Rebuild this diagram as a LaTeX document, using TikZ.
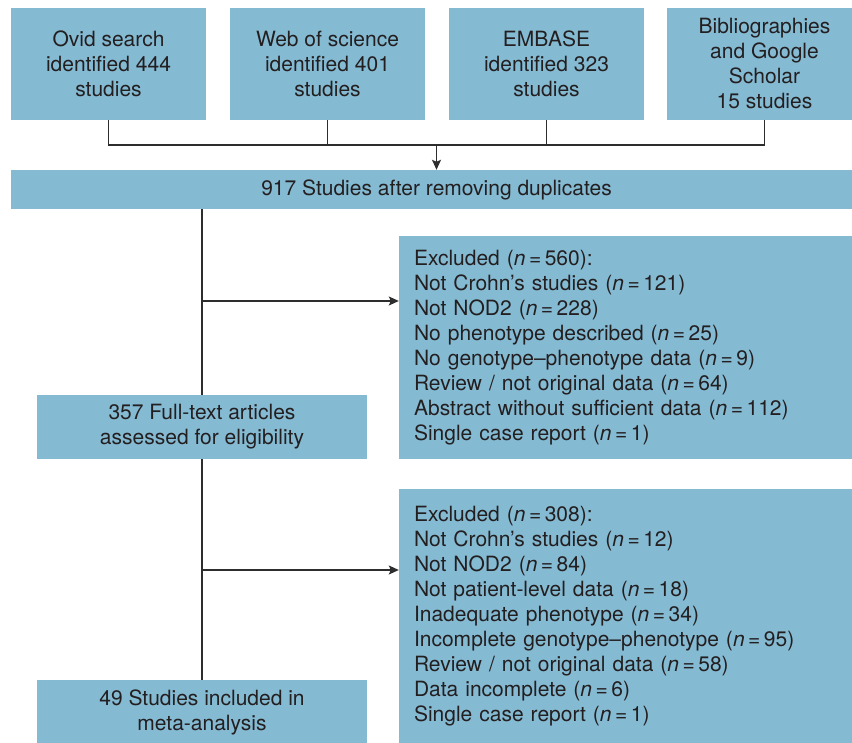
\documentclass[tikz,border=0pt]{standalone}
\usepackage{fontspec}
\setmainfont{TeX Gyre Heros}
\usetikzlibrary{arrows.meta}
\definecolor{boxblue}{RGB}{133,186,211}
\definecolor{txt}{RGB}{35,31,32}
\definecolor{ln}{RGB}{45,45,45}
\newcommand{\nn}[1]{(\textit{n}\,=\,#1)}
\begin{document}
\begin{tikzpicture}[x=1pt,y=-1pt,
  box/.style={fill=boxblue,draw=none,text=txt,font=\fontsize{21}{25}\selectfont,align=center,inner sep=0pt},
  exbox/.style={fill=boxblue,draw=none,text=txt,font=\fontsize{21}{25}\selectfont,align=left,inner xsep=15pt,inner ysep=0pt,text width=433pt},
  conn/.style={draw=ln,line width=1.3pt},
  arr/.style={conn,-{Stealth[length=10pt,width=9pt,inset=2pt]}}]
\useasboundingbox (0,0) rectangle (852,743);
\fill[white] (0,0) rectangle (852,743);
\node[box,minimum width=195pt,minimum height=112pt] (b1) at (108.5,64) {Ovid search\\identified 444\\studies};
\node[box,minimum width=195pt,minimum height=112pt] (b2) at (327.5,64) {Web of science\\identified 401\\studies};
\node[box,minimum width=195pt,minimum height=112pt] (b3) at (546.5,64) {EMBASE\\identified 323\\studies};
\node[box,minimum width=195pt,minimum height=112pt] (b4) at (764.5,64) {Bibliographies\\and Google\\Scholar\\15 studies};
\node[box,minimum width=851pt,minimum height=39pt] (s917) at (436.5,189.5) {917 Studies after removing duplicates};
\node[box,minimum width=330pt,minimum height=64pt] (ft) at (202,427) {357 Full-text articles\\assessed for eligibility};
\node[box,minimum width=330pt,minimum height=64pt] (inc) at (202,712) {49 Studies included in\\meta-analysis};
\node[exbox,minimum height=223pt] (ex1) at (630.5,347.5) {Excluded \nn{560}:\\Not Crohn’s studies \nn{121}\\Not NOD2 \nn{228}\\No phenotype described \nn{25}\\No genotype–phenotype data \nn{9}\\Review / not original data \nn{64}\\Abstract without sufficient data \nn{112}\\Single case report \nn{1}};
\node[exbox,minimum height=254pt] (ex2) at (630.5,616) {Excluded \nn{308}:\\Not Crohn’s studies \nn{12}\\Not NOD2 \nn{84}\\Not patient-level data \nn{18}\\Inadequate phenotype \nn{34}\\Incomplete genotype–phenotype \nn{95}\\Review / not original data \nn{58}\\Data incomplete \nn{6}\\Single case report \nn{1}};
\coordinate (j) at (436.5,145);
\coordinate (a1) at (202,301);
\coordinate (a2) at (202,570);
\draw[conn] (b1.south) |- (b4.south |- j) -- (b4.south);
\draw[conn] (b2.south) -- (b2.south |- j);
\draw[conn] (b3.south) -- (b3.south |- j);
\draw[arr] (j) -- (s917.north);
\draw[conn] (ft.center |- s917.south) -- (ft.north);
\draw[conn] (ft.south) -- (inc.north);
\draw[arr] (a1) -- (ex1.west |- a1);
\draw[arr] (a2) -- (ex2.west |- a2);
\end{tikzpicture}
\end{document}
